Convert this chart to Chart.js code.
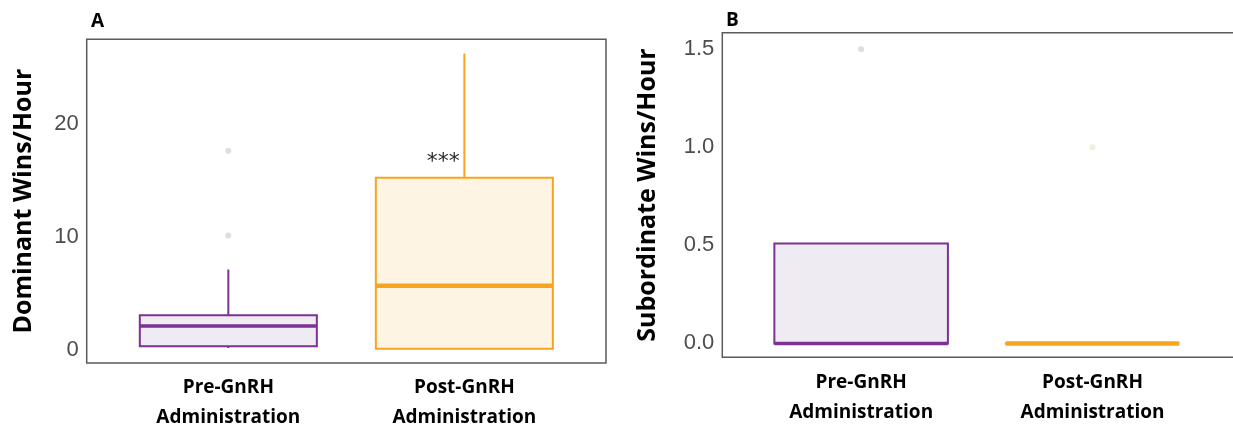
<!DOCTYPE html>
<html>
<head>
<meta charset="utf-8">
<script src="https://cdn.jsdelivr.net/npm/chart.js@4"></script>
<style>
  html, body { margin: 0; padding: 0; background: #fff; overflow: hidden; }
  body { width: 1233px; height: 427px; position: relative; }
  .panel { position: absolute; top: 0; width: 620px; height: 427px; overflow: hidden; }
  .tag { position: absolute; font-family: 'Open Sans'; font-weight: bold; font-size: 19px; line-height: 19px; color: #000; }
</style>
</head>
<body>
<div class="panel" style="left:0"><canvas id="chartA" width="620" height="427"></canvas></div>
<div class="panel" style="left:620px;width:613px"><canvas id="chartB" width="620" height="427"></canvas></div>
<div class="tag" style="left:91px;top:11px">A</div>
<div class="tag" style="left:726px;top:10px">B</div>
<script>
const categories = ['Pre-GnRH Administration', 'Post-GnRH Administration'];

// panel A - dominant wins per hour (box summaries)
const dominantMin = [0.15, 0.1];
const dominantQ1 = [0.3, 0.1];
const dominantMedian = [2.1, 5.65];
const dominantQ3 = [3.05, 15.2];
const dominantMax = [7.1, 26.2];
const dominantOutliers = [[10.1, 17.6], []];
const dominantTicks = [0, 10, 20];

// panel B - subordinate wins per hour
const subordinateMin = [0, 0];
const subordinateQ1 = [0, 0];
const subordinateMedian = [0, 0];
const subordinateQ3 = [0.51, 0];
const subordinateMax = [0.51, 0];
const subordinateOutliers = [[1.5], [1.0]];
const subordinateTicks = [0, 0.5, 1.0, 1.5];

const significance = [{ x: 1.91, y: 17.2, text: '***' }];

const strokes = ['#7B3294', '#F7A51E'];
const fills = ['#EEEBF2', '#FEF4E3'];
const outlierColors = ['#DEDEDE', '#EEF3D6'];
const medianWidths = [3.5, 4.5];
const HALF = 0.375;

function boxDatasets(mins, q1s, meds, q3s, maxs, outliers) {
    const sets = [];
    categories.forEach((c, i) => {
        const x = i + 1;
        sets.push({
            data: [
                { x: x - HALF, y: q1s[i] }, { x: x + HALF, y: q1s[i] },
                { x: x + HALF, y: q3s[i] }, { x: x - HALF, y: q3s[i] },
                { x: x - HALF, y: q1s[i] }
            ],
            showLine: true, fill: 'shape', backgroundColor: fills[i],
            borderColor: strokes[i], borderWidth: 2, borderCapStyle: 'square',
            pointRadius: 0, order: 3
        });
        sets.push({
            data: [
                { x: x, y: q3s[i] }, { x: x, y: maxs[i] }, { x: x, y: null },
                { x: x, y: q1s[i] }, { x: x, y: mins[i] }
            ],
            showLine: true, spanGaps: false, borderColor: strokes[i],
            borderWidth: 2, pointRadius: 0, order: 2
        });
        sets.push({
            data: [{ x: x - HALF, y: meds[i] }, { x: x + HALF, y: meds[i] }],
            showLine: true, borderColor: strokes[i], borderWidth: medianWidths[i],
            pointRadius: 0, order: 1
        });
        sets.push({
            data: outliers[i].map(v => ({ x: x, y: v })),
            pointRadius: 3, backgroundColor: outlierColors[i], borderWidth: 0, order: 0
        });
    });
    return sets;
}

// panel frame; B's right side is cut off in the source figure
const framePlugin = {
    id: 'frame',
    afterDraw(chart, args, opts) {
        const a = chart.chartArea, ctx = chart.ctx;
        ctx.save();
        ctx.strokeStyle = '#5a5a5a';
        ctx.lineWidth = 1.5;
        ctx.beginPath();
        ctx.moveTo(a.right, a.top);
        ctx.lineTo(a.left, a.top);
        ctx.lineTo(a.left, a.bottom);
        ctx.lineTo(a.right, a.bottom);
        if (opts.closed) ctx.closePath();
        ctx.stroke();
        ctx.restore();
    }
};

const notesPlugin = {
    id: 'notes',
    afterDatasetsDraw(chart, args, opts) {
        if (!opts.items) return;
        const ctx = chart.ctx;
        ctx.save();
        ctx.fillStyle = '#2a2a2a';
        ctx.font = '22px "DejaVu Sans"';
        ctx.textAlign = 'center';
        ctx.textBaseline = 'alphabetic';
        opts.items.forEach(n => {
            ctx.fillText(n.text, chart.scales.x.getPixelForValue(n.x), chart.scales.y.getPixelForValue(n.y) + 13);
        });
        ctx.restore();
    }
};

function makeConfig(opt) {
    return {
        type: 'scatter',
        data: { datasets: boxDatasets(...opt.stats) },
        plugins: [framePlugin, notesPlugin],
        options: {
            responsive: false,
            animation: false,
            layout: { padding: { top: opt.top, right: opt.right, left: 0, bottom: 0 } },
            plugins: {
                legend: { display: false },
                tooltip: { enabled: false },
                notes: { items: opt.notes },
                frame: { closed: opt.closed }
            },
            scales: {
                x: {
                    type: 'linear', min: 0.4, max: opt.xMax,
                    grid: { display: false, drawTicks: false },
                    border: { display: false },
                    afterBuildTicks: s => { s.ticks = categories.map((c, i) => ({ value: i + 1 })); },
                    afterFit: s => { s.height = opt.xHeight; },
                    ticks: {
                        autoSkip: false, maxRotation: 0, padding: opt.xPad, color: '#000',
                        font: { family: 'Open Sans', weight: 'bold', size: 19, lineHeight: 1.55 },
                        callback: v => categories[v - 1].split(' ')
                    }
                },
                y: {
                    type: 'linear', min: opt.yMin, max: opt.yMax,
                    grid: { display: false, drawTicks: false },
                    border: { display: false },
                    afterBuildTicks: s => { s.ticks = opt.ticks.map(v => ({ value: v })); },
                    afterFit: s => { s.width = opt.yWidth; },
                    ticks: {
                        padding: 8, color: '#4d4d4d',
                        font: { family: 'Liberation Sans', size: 22 },
                        callback: opt.fmt
                    },
                    title: {
                        display: true, text: opt.title, color: '#000',
                        font: { family: 'Open Sans', weight: 'bold', size: 25, lineHeight: 1.2 },
                        padding: { top: opt.titlePad, bottom: 0 }
                    }
                }
            }
        }
    };
}

const chartA = new Chart(document.getElementById('chartA'), makeConfig({
    stats: [dominantMin, dominantQ1, dominantMedian, dominantQ3, dominantMax, dominantOutliers],
    ticks: dominantTicks, fmt: v => String(v),
    yMin: -1.17, yMax: 27.45, xMax: 2.6, top: 39.3, right: 14, yWidth: 86.7, xHeight: 64, xPad: 10,
    title: 'Dominant Wins/Hour', titlePad: 9, notes: significance, closed: true
}));

const chartB = new Chart(document.getElementById('chartB'), makeConfig({
    stats: [subordinateMin, subordinateQ1, subordinateMedian, subordinateQ3, subordinateMax, subordinateOutliers],
    ticks: subordinateTicks, fmt: v => v.toFixed(1),
    yMin: -0.071, yMax: 1.585, xMax: 2.62, top: 32.7, right: 0, yWidth: 102.3, xHeight: 69.7, xPad: 11,
    title: 'Subordinate Wins/Hour', titlePad: 13, notes: [], closed: false
}));
</script>
</body>
</html>
